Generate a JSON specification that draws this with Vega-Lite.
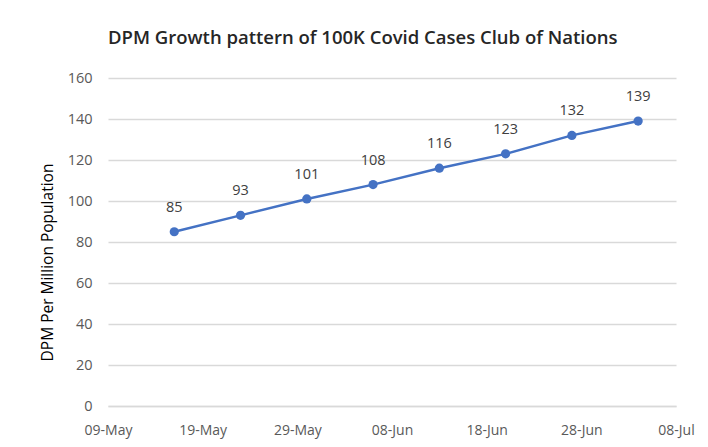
{
  "$schema": "https://vega.github.io/schema/vega-lite/v6.json",
  "width": 568,
  "height": 328,
  "autosize": {"type": "none"},
  "padding": {"left": 108, "top": 78, "right": 32, "bottom": 41},
  "background": "white",
  "title": {
    "text": "DPM Growth pattern of 100K Covid Cases Club of Nations",
    "anchor": "start",
    "frame": "group",
    "offset": 4,
    "baseline": "bottom",
    "font": "Open Sans",
    "fontSize": 18.5,
    "fontWeight": 600,
    "color": "#262626"
  },
  "data": {
    "values": [
      {"date": "2020-05-16", "dpm": 85},
      {"date": "2020-05-23", "dpm": 93},
      {"date": "2020-05-30", "dpm": 101},
      {"date": "2020-06-06", "dpm": 108},
      {"date": "2020-06-13", "dpm": 116},
      {"date": "2020-06-20", "dpm": 123},
      {"date": "2020-06-27", "dpm": 132},
      {"date": "2020-07-04", "dpm": 139}
    ]
  },
  "encoding": {
    "x": {
      "field": "date",
      "type": "temporal",
      "scale": {
        "type": "utc",
        "domain": [
          {"year": 2020, "month": 5, "date": 9, "utc": true},
          {"year": 2020, "month": 7, "date": 8, "utc": true}
        ]
      },
      "axis": {
        "title": null,
        "labelExpr": "utcFormat(datum.value, '%d-%b')",
        "values": [
          {"year": 2020, "month": 5, "date": 9, "utc": true},
          {"year": 2020, "month": 5, "date": 19, "utc": true},
          {"year": 2020, "month": 5, "date": 29, "utc": true},
          {"year": 2020, "month": 6, "date": 8, "utc": true},
          {"year": 2020, "month": 6, "date": 18, "utc": true},
          {"year": 2020, "month": 6, "date": 28, "utc": true},
          {"year": 2020, "month": 7, "date": 8, "utc": true}
        ],
        "grid": false,
        "ticks": false,
        "domainColor": "#d9d9d9",
        "domainWidth": 1.5,
        "labelPadding": 17,
        "labelFont": "Open Sans",
        "labelFontSize": 14,
        "labelColor": "#595959",
        "labelFlush": false,
        "labelOverlap": false
      }
    },
    "y": {
      "field": "dpm",
      "type": "quantitative",
      "scale": {"domain": [0, 160]},
      "axis": {
        "title": "DPM Per Million Population",
        "titleFont": "Open Sans",
        "titleFontSize": 15.5,
        "titleFontWeight": "normal",
        "titleColor": "#000000",
        "titlePadding": 12,
        "titleY": 184,
        "values": [0, 20, 40, 60, 80, 100, 120, 140, 160],
        "domain": false,
        "ticks": false,
        "gridColor": "#d9d9d9",
        "gridWidth": 1.5,
        "labelPadding": 16,
        "labelFont": "Open Sans",
        "labelFontSize": 14.5,
        "labelColor": "#595959"
      }
    }
  },
  "layer": [
    {
      "mark": {"type": "line", "color": "#4472C4", "strokeWidth": 2.5}
    },
    {
      "mark": {"type": "point", "filled": true, "color": "#4472C4", "size": 85, "opacity": 1}
    },
    {
      "mark": {"type": "text", "dy": -20, "baseline": "alphabetic", "font": "Open Sans", "fontSize": 14.5, "color": "#404040"},
      "encoding": {"text": {"field": "dpm", "type": "quantitative"}}
    }
  ],
  "config": {"view": {"stroke": null}}
}
